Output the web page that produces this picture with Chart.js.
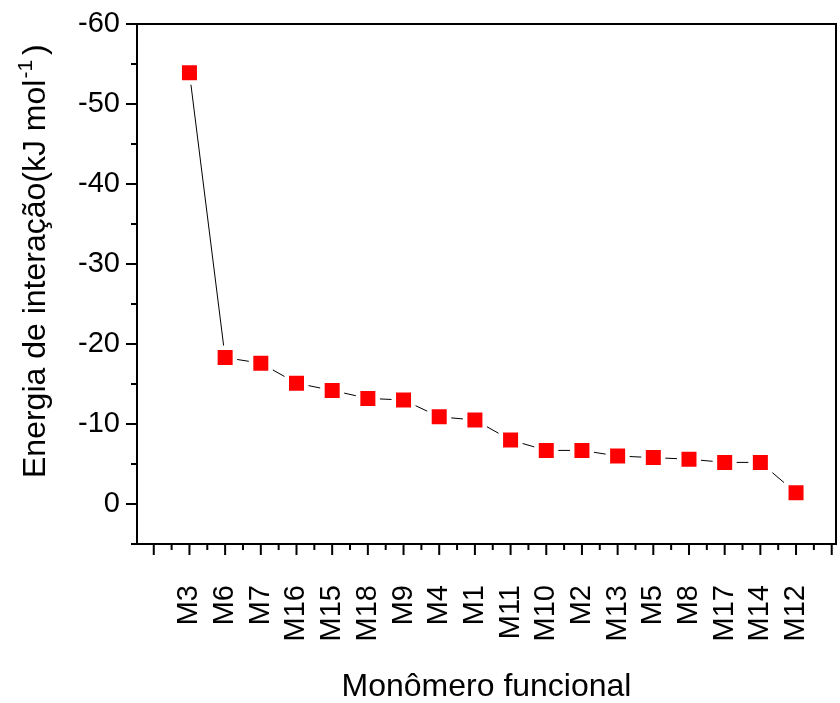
<!DOCTYPE html>
<html lang="pt">
<head>
    <meta charset="UTF-8">
    <title>Energia de interação</title>
    <script src="https://cdn.jsdelivr.net/npm/chart.js"></script>
    <style>
        html, body { margin: 0; padding: 0; background: #fff; overflow: hidden; }
        #wrap { width: 840px; height: 703px; position: relative; }
    </style>
</head>
<body>
    <div id="wrap"><canvas id="chart"></canvas></div>
    <script>
        // monomers, sorted by interaction energy (kJ/mol)
        const categories = ['M3', 'M6', 'M7', 'M16', 'M15', 'M18', 'M9', 'M4', 'M1',
            'M11', 'M10', 'M2', 'M13', 'M5', 'M8', 'M17', 'M14', 'M12'];
        const energies = [-53.9, -18.3, -17.6, -15.1, -14.2, -13.2, -13.0, -10.9, -10.5,
            -8.0, -6.7, -6.7, -6.0, -5.8, -5.6, -5.2, -5.2, -1.4];
        const yTicks = [-60, -50, -40, -30, -20, -10, 0];

        const FONT = "'Liberation Sans', Arial, sans-serif";

        // no extra room for edge labels, keep the plot box where the original has it
        function noPad(s) {
            s.paddingLeft = 0;
            s.paddingRight = 0;
            s.paddingTop = 0;
            s.paddingBottom = 0;
        }

        // box around the plot + major/minor tick marks
        const frame = {
            id: 'frame',
            afterDraw(chart) {
                const { ctx, chartArea: a, scales: { x, y } } = chart;
                ctx.save();
                ctx.strokeStyle = '#000';
                ctx.lineWidth = 2;
                ctx.strokeRect(a.left, a.top, a.right - a.left, a.bottom - a.top);
                ctx.beginPath();
                x.ticks.forEach(t => {
                    const px = x.getPixelForValue(t.value);
                    const len = Number.isInteger(t.value) ? 11 : 6;
                    ctx.moveTo(px, a.bottom);
                    ctx.lineTo(px, a.bottom + len);
                });
                y.ticks.forEach(t => {
                    const py = y.getPixelForValue(t.value);
                    const len = t.value % 10 === 0 ? 11 : 6;
                    ctx.moveTo(a.left, py);
                    ctx.lineTo(a.left - len, py);
                });
                ctx.stroke();

                // y title with superscript
                ctx.fillStyle = '#000';
                ctx.translate(45, 478);
                ctx.rotate(-Math.PI / 2);
                ctx.textBaseline = 'alphabetic';
                ctx.textAlign = 'left';
                ctx.font = '32px ' + FONT;
                const main = 'Energia de interação(kJ mol';
                ctx.fillText(main, 0, 0);
                let w = ctx.measureText(main).width;
                ctx.font = '21px ' + FONT;
                ctx.fillText('-1', w + 1, -13);
                w += ctx.measureText('-1').width + 6;
                ctx.font = '32px ' + FONT;
                ctx.fillText(')', w, 0);
                ctx.restore();
            }
        };

        new Chart(document.getElementById('chart'), {
            type: 'line',
            data: {
                datasets: [{
                    data: energies.map((v, i) => ({ x: i + 1, y: v })),
                    borderColor: '#000',
                    borderWidth: 1,
                    pointStyle: 'rect',
                    pointRadius: 13.8,
                    pointHoverRadius: 13.8,
                    pointBackgroundColor: '#ff0000',
                    pointBorderColor: '#fff',
                    pointBorderWidth: 4.5,
                    tension: 0
                }]
            },
            options: {
                responsive: true,
                maintainAspectRatio: false,
                animation: false,
                layout: {
                    autoPadding: false, // big markers would otherwise shrink the plot
                    padding: { top: 24, right: 4, left: 0, bottom: 0 }
                },
                plugins: {
                    legend: { display: false },
                    tooltip: { enabled: false }
                },
                scales: {
                    x: {
                        type: 'linear',
                        min: -0.47,
                        max: 19.12,
                        afterBuildTicks: s => {
                            s.ticks = [];
                            for (let v = 0; v <= categories.length + 1; v += 0.5) s.ticks.push({ value: v });
                        },
                        afterFit: s => { s.height = 159; noPad(s); },
                        grid: { display: false, drawTicks: false },
                        border: { display: false },
                        ticks: {
                            autoSkip: false,
                            minRotation: 90,
                            maxRotation: 90,
                            padding: 41,
                            color: '#000',
                            font: { family: FONT, size: 29 },
                            callback: v => Number.isInteger(v) ? (categories[v - 1] || '') : ''
                        },
                        title: {
                            display: true,
                            text: 'Monômero funcional',
                            color: '#000',
                            font: { family: FONT, size: 32, lineHeight: 1 },
                            padding: { top: 0, bottom: 0 }
                        }
                    },
                    y: {
                        min: -60,
                        max: 5,
                        reverse: true,
                        afterBuildTicks: s => {
                            s.ticks = [];
                            for (let v = -60; v <= 5; v += 5) s.ticks.push({ value: v });
                        },
                        afterFit: s => { s.width = 137; noPad(s); },
                        grid: { display: false, drawTicks: false },
                        border: { display: false },
                        ticks: {
                            padding: 17,
                            color: '#000',
                            font: { family: FONT, size: 29 },
                            callback: v => yTicks.includes(v) ? String(v) : ''
                        }
                    }
                }
            },
            plugins: [frame]
        });
    </script>
</body>
</html>
